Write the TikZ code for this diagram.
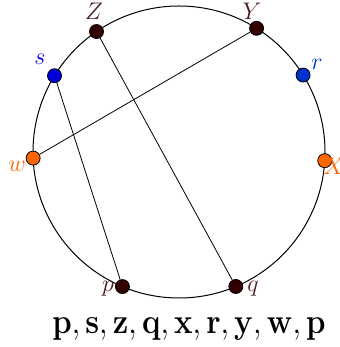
\documentclass[tikz,border=0pt]{standalone}
\usepackage{amsmath}
\usepackage{graphicx}
\definecolor{dkbrown}{HTML}{330000}
\definecolor{lbrown}{HTML}{4D1A1A}
\definecolor{pblue}{HTML}{0000DD}
\definecolor{rblue}{HTML}{0033CC}
\definecolor{porange}{HTML}{FF6600}
\begin{document}
\begin{tikzpicture}[x=0.5pt,y=0.5pt,
  pt/.style={circle,draw=black,line width=0.4pt,inner sep=0pt,minimum size=7pt},
  lbl/.style={inner sep=1pt,font=\fontsize{12.5}{15}\selectfont}]
\useasboundingbox (0,0) rectangle (340,347);
\coordinate (c) at (179,195);
\draw[line width=0.5pt] (c) circle[radius=73pt];
\path (c) ++(124.4:73pt) node[pt,fill=dkbrown] (Z) {};
\path (c) ++(148.5:73pt) node[pt,fill=pblue] (s) {};
\path (c) ++(182.4:73pt) node[pt,fill=porange] (w) {};
\path (c) ++(57.9:73pt) node[pt,fill=dkbrown] (Y) {};
\path (c) ++(31.8:73pt) node[pt,fill=rblue] (r) {};
\path (c) ++(-3.4:73pt) node[pt,fill=porange] (X) {};
\path (c) ++(247.2:73pt) node[pt,fill=dkbrown] (p) {};
\path (c) ++(292.9:73pt) node[pt,fill=dkbrown] (q) {};
\draw[line width=0.4pt] (s) -- (p);
\draw[line width=0.4pt] (Z) -- (q);
\draw[line width=0.4pt] (w) -- (Y);
\node[lbl,text=lbrown] (lZ) at (94,336) {$Z$};
\node[lbl,text=pblue] (ls) at (40,288) {$s$};
\node[lbl,text=porange] (lw) at (17,181) {$w$};
\node[lbl,text=lbrown] (lY) at (252,336) {$Y$};
\node[lbl,text=rblue] (lr) at (317,283) {$r$};
\node[lbl,text=porange] (lX) at (334,181) {$X$};
\node[lbl,text=lbrown] (lp) at (108,58) {$p$};
\node[lbl,text=lbrown] (lq) at (253,58) {$q$};
\node[inner sep=0pt] (seq) at (189,18) {\scalebox{0.9}[1.02]{\LARGE$\mathbf{p, s, z, q, x, r, y, w, p}$}};
\end{tikzpicture}
\end{document}
